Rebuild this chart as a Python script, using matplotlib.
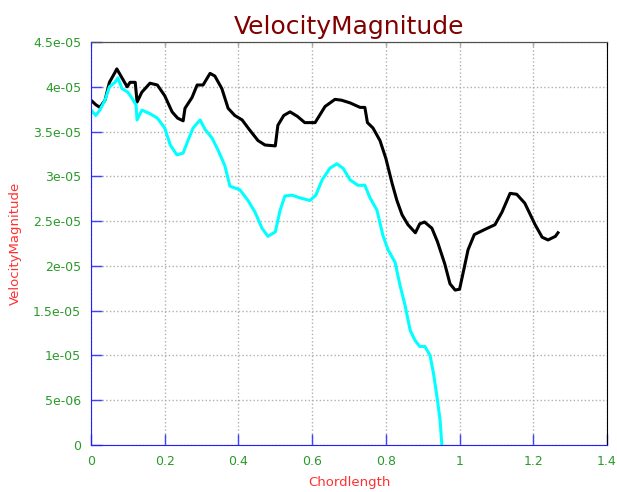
import matplotlib
matplotlib.use('Agg')
import matplotlib.pyplot as plt
from matplotlib.ticker import FormatStrFormatter, NullFormatter

# Curva negra
x_negro = [0.0, 0.013, 0.024, 0.038, 0.05, 0.065, 0.07, 0.084, 0.098, 0.106, 0.12, 0.125,
           0.138, 0.16, 0.18, 0.2, 0.22, 0.235, 0.25, 0.255, 0.274, 0.288, 0.304, 0.323,
           0.336, 0.355, 0.372, 0.39, 0.41, 0.43, 0.453, 0.472, 0.5, 0.507, 0.523, 0.54,
           0.56, 0.58, 0.608, 0.62, 0.635, 0.662, 0.68, 0.703, 0.73, 0.743, 0.75, 0.765,
           0.784, 0.8, 0.817, 0.83, 0.844, 0.86, 0.88, 0.892, 0.905, 0.925, 0.94, 0.96,
           0.974, 0.988, 1.0, 1.01, 1.023, 1.04, 1.07, 1.096, 1.115, 1.137, 1.155, 1.177,
           1.205, 1.224, 1.24, 1.26, 1.267]
y_negro = [3.85, 3.8, 3.77, 3.85, 4.05, 4.16, 4.2, 4.1, 4.0, 4.05, 4.05, 3.83,
           3.94, 4.04, 4.02, 3.9, 3.72, 3.65, 3.62, 3.76, 3.88, 4.02, 4.02, 4.15,
           4.12, 3.98, 3.76, 3.68, 3.63, 3.52, 3.4, 3.35, 3.34, 3.57, 3.68, 3.72,
           3.67, 3.6, 3.6, 3.68, 3.78, 3.86, 3.85, 3.82, 3.77, 3.77, 3.6, 3.54,
           3.4, 3.2, 2.92, 2.73, 2.57, 2.46, 2.37, 2.47, 2.49, 2.42, 2.27, 2.02,
           1.8, 1.73, 1.74, 1.93, 2.18, 2.35, 2.41, 2.46, 2.6, 2.81, 2.8, 2.7,
           2.46, 2.32, 2.29, 2.33, 2.37]

# Curva cian
x_cian = [0.0, 0.013, 0.024, 0.038, 0.05, 0.065, 0.073, 0.084, 0.1, 0.11, 0.122, 0.125,
          0.138, 0.16, 0.18, 0.2, 0.215, 0.233, 0.25, 0.263, 0.277, 0.296, 0.31, 0.328,
          0.345, 0.363, 0.377, 0.404, 0.426, 0.445, 0.464, 0.48, 0.5, 0.513, 0.526, 0.545,
          0.567, 0.594, 0.61, 0.627, 0.648, 0.667, 0.684, 0.703, 0.724, 0.743, 0.757, 0.776,
          0.792, 0.806, 0.825, 0.838, 0.852, 0.866, 0.879, 0.892, 0.906, 0.92, 0.93, 0.94,
          0.947, 0.952]
y_cian = [3.74, 3.68, 3.74, 3.85, 4.0, 4.05, 4.1, 3.98, 3.94, 3.88, 3.8, 3.63,
          3.74, 3.7, 3.65, 3.54, 3.35, 3.24, 3.26, 3.4, 3.54, 3.63, 3.52, 3.43,
          3.29, 3.12, 2.89, 2.85, 2.73, 2.6, 2.42, 2.33, 2.38, 2.62, 2.78, 2.79,
          2.76, 2.73, 2.79, 2.96, 3.09, 3.14, 3.09, 2.96, 2.9, 2.9, 2.76, 2.62,
          2.34, 2.18, 2.04, 1.79, 1.56, 1.28, 1.17, 1.1, 1.1, 1.0, 0.78, 0.5,
          0.28, 0.0]

x_ticks = [0, 0.2, 0.4, 0.6, 0.8, 1, 1.2, 1.4]
y_ticks = [0, 0.5, 1.0, 1.5, 2.0, 2.5, 3.0, 3.5, 4.0, 4.5]

fig = plt.figure(figsize=(6.17, 4.92), dpi=100)
ax = fig.add_axes([0.1475, 0.0955, 0.8363, 0.8191])

ax.plot(x_negro, [v * 1e-5 for v in y_negro], color='black', linewidth=2.2)
ax.plot(x_cian, [v * 1e-5 for v in y_cian], color='#00ffff', linewidth=2.2)

ax.set_xlim(0, 1.4)
ax.set_ylim(0, 4.5e-5)
ax.set_xticks(x_ticks)
ax.set_yticks([v * 1e-5 for v in y_ticks])
ax.xaxis.set_major_formatter(FormatStrFormatter('%g'))
ax.yaxis.set_major_formatter(FormatStrFormatter('%g'))
ax.xaxis.set_ticks_position('bottom')
ax.yaxis.set_ticks_position('left')

ax.grid(True, color='#b0b0b0', linestyle=':', linewidth=1)
ax.tick_params(direction='in', length=8, width=1, color='#4040ff',
               labelcolor='#2a9a2a', labelsize=9, pad=7)

# marcas de arriba grises y cortas
arriba = ax.secondary_xaxis('top')
arriba.set_xticks(x_ticks)
arriba.xaxis.set_major_formatter(NullFormatter())
arriba.tick_params(direction='in', length=3, width=1, color='#a0a0a0')
arriba.spines['top'].set_color('#505050')

ax.spines['left'].set_color('#2020ff')
ax.spines['bottom'].set_color('#2020ff')
ax.spines['top'].set_color('#505050')
ax.spines['right'].set_color('#000000')

ax.set_title('VelocityMagnitude', color='#800000', fontsize=18, pad=6)
ax.set_xlabel('Chordlength', color='#ff3030', fontsize=9.5, labelpad=6)
ax.set_ylabel('VelocityMagnitude', color='#ff3030', fontsize=9.5, labelpad=8)

fig.savefig('out.png', dpi=100)
